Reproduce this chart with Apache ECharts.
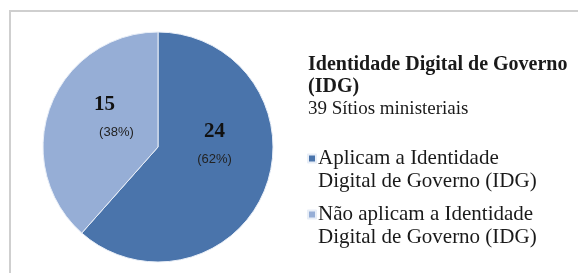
<!DOCTYPE html>
<html>
<head>
<meta charset="utf-8">
<script src="https://cdn.jsdelivr.net/npm/echarts@6/dist/echarts.min.js"></script>
<style>
  html, body { margin: 0; padding: 0; background: #fff; }
  #chart { width: 578px; height: 273px; }
</style>
</head>
<body>
<div id="chart"></div>
<script>
// dados do gráfico
const categories = ['Aplicam a Identidade\nDigital de Governo (IDG)', 'Não aplicam a Identidade\nDigital de Governo (IDG)'];
const values = [24, 15];
const percents = ['62%', '38%'];
const colors = ['#4A74AB', '#96AED6'];
const labelOffsets = [[0, -28], [3, -12]];

const chart = echarts.init(document.getElementById('chart'));

const option = {
  animation: false,
  title: {
    text: 'Identidade Digital de Governo\n(IDG)',
    subtext: '39 Sítios ministeriais',
    left: 303,
    top: 49,
    itemGap: 0,
    textStyle: {
      fontFamily: 'Liberation Serif',
      fontWeight: 'bold',
      fontSize: 20,
      lineHeight: 22,
      color: '#1a1a1a'
    },
    subtextStyle: {
      fontFamily: 'Liberation Serif',
      fontSize: 19,
      lineHeight: 22,
      color: '#1a1a1a'
    }
  },
  legend: {
    orient: 'vertical',
    left: 302,
    top: 119,
    icon: 'rect',
    itemWidth: 8,
    itemHeight: 8,
    itemGap: -13,
    selectedMode: false,
    formatter: name => '\n' + name,
    textStyle: {
      fontFamily: 'Liberation Serif',
      fontSize: 21,
      lineHeight: 23,
      color: '#1a1a1a',
      padding: [0, 0, 0, -3]
    }
  },
  graphic: [{
    type: 'rect',
    silent: true,
    shape: { x: 10, y: 11, width: 620, height: 300 },
    style: { fill: 'none', stroke: '#cfcfcf', lineWidth: 2 }
  }],
  series: [{
    type: 'pie',
    center: [158, 147],
    radius: 115,
    startAngle: 90,
    clockwise: true,
    itemStyle: { borderColor: '#e8eef7', borderWidth: 1 },
    label: {
      position: 'inside',
      formatter: p => '{v|' + p.value + '}\n{' + (p.dataIndex === 1 ? 'p2' : 'p') + '|(' + percents[p.dataIndex] + ')}',
      rich: {
        v: { fontFamily: 'Liberation Serif', fontWeight: 'bold', fontSize: 21, color: '#111', lineHeight: 38 },
        p: { fontFamily: 'Liberation Sans', fontSize: 13, color: '#222', lineHeight: 18 },
        p2: { fontFamily: 'Liberation Sans', fontSize: 13, color: '#222', lineHeight: 18, padding: [0, 0, 0, 24] }
      }
    },
    labelLine: { show: false },
    data: categories.map((name, i) => ({
      name: name,
      value: values[i],
      itemStyle: { color: colors[i] },
      label: { offset: labelOffsets[i] }
    }))
  }]
};

chart.setOption(option);
</script>
</body>
</html>
